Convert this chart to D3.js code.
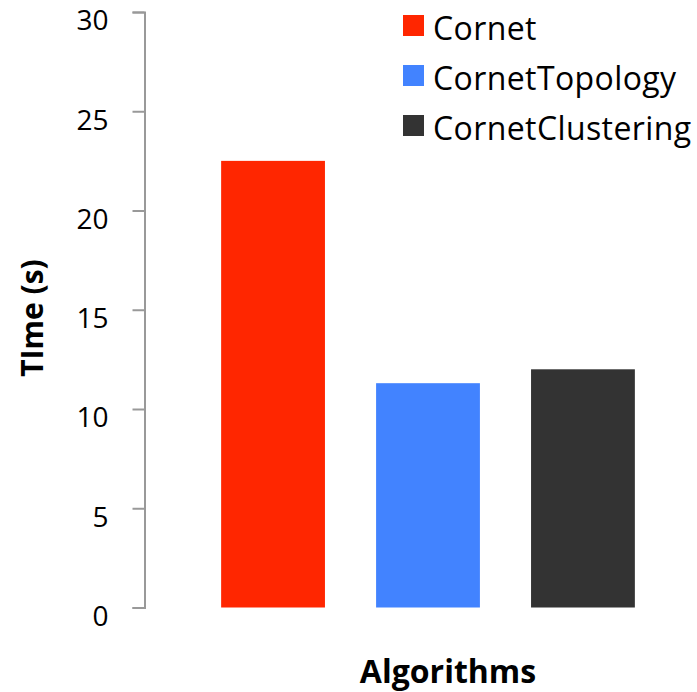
<!DOCTYPE html>
<html>
<head>
<meta charset="utf-8">
<script src="https://cdn.jsdelivr.net/npm/d3@7"></script>
<style>
  body { margin: 0; background: #fff; }
  svg { display: block; }
  text { font-family: "Open Sans", sans-serif; }
</style>
</head>
<body>
<svg id="chart" width="697" height="692"></svg>
<script>
// Run times for each algorithm
const categories = ["Cornet", "CornetTopology", "CornetClustering"];
const times = [22.5, 11.3, 12.0];
const colors = ["#ff2600", "#4283ff", "#333333"];
const yTicks = [0, 5, 10, 15, 20, 25, 30];

const FONT = "'Open Sans', sans-serif";
const svg = d3.select("#chart");

const y = d3.scaleLinear().domain([0, 30]).range([607.5, 12]);
const x = d3.scaleBand().domain(categories).range([170, 686]).paddingInner(0.33).paddingOuter(0.33);

// Bars
svg.append("g").selectAll("rect")
  .data(categories)
  .join("rect")
  .attr("x", d => x(d))
  .attr("width", x.bandwidth())
  .attr("y", (d, i) => y(times[i]))
  .attr("height", (d, i) => y(0) - y(times[i]))
  .attr("fill", (d, i) => colors[i]);

// Y axis
const yAxis = d3.axisLeft(y).tickValues(yTicks).tickSize(12).tickPadding(24).tickFormat(d3.format("d"));
const ga = svg.append("g").attr("transform", "translate(144.5,0)").call(yAxis)
  .attr("font-family", FONT).attr("font-size", 28);
ga.select(".domain").attr("stroke", "#999").attr("stroke-width", 2);
ga.selectAll(".tick line").attr("stroke", "#999").attr("stroke-width", 2);
ga.selectAll(".tick text").attr("fill", "#000").attr("dy", "0.64em");

// Axis titles
svg.append("text")
  .attr("transform", "translate(43,318) rotate(-90)")
  .attr("text-anchor", "middle")
  .attr("font-family", FONT)
  .attr("font-size", 30).attr("font-weight", "bold")
  .text("TIme (s)");

svg.append("text")
  .attr("x", 448).attr("y", 683)
  .attr("text-anchor", "middle")
  .attr("font-family", FONT)
  .attr("font-size", 32).attr("font-weight", "bold")
  .text("Algorithms");

// Legend
const legend = svg.append("g").selectAll("g")
  .data(categories)
  .join("g")
  .attr("transform", (d, i) => `translate(403,${15 + i * 50})`);
legend.append("rect").attr("width", 21).attr("height", 21).attr("fill", (d, i) => colors[i]);
legend.append("text").attr("x", 30).attr("y", 25)
  .attr("font-family", FONT)
  .attr("font-size", 32).attr("letter-spacing", "0.4px").attr("fill", "#000")
  .text(d => d);
</script>
</body>
</html>
